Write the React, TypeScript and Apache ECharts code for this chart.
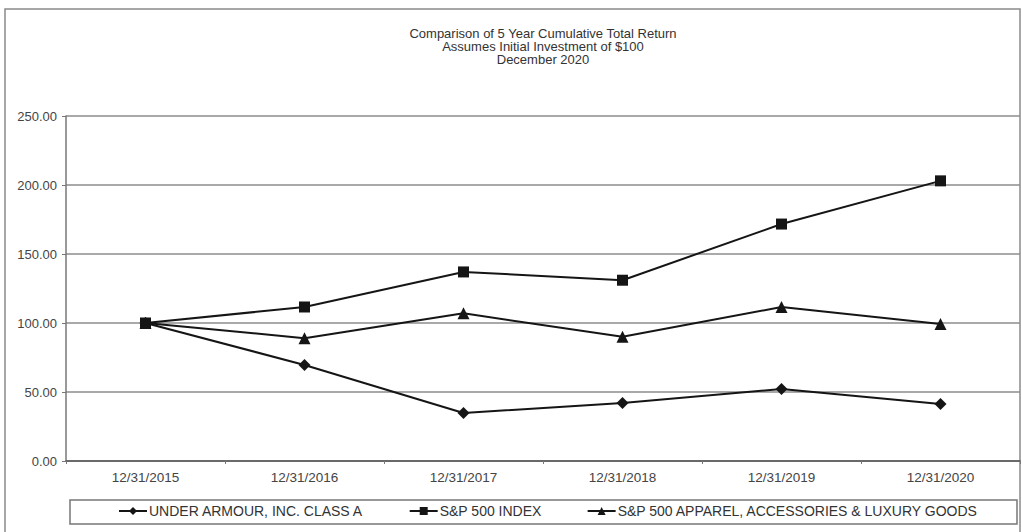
import React, { useEffect, useRef } from "react";
import * as echarts from "echarts";

const categories = ["12/31/2015", "12/31/2016", "12/31/2017", "12/31/2018", "12/31/2019", "12/31/2020"];
const underArmour = [100, 69.6, 34.8, 42.0, 52.2, 41.3];
const sp500 = [100, 111.6, 137.0, 131.0, 171.7, 203.0];
const apparel = [100, 89.0, 107.0, 90.0, 111.6, 99.3];
const yTicks = { min: 0, max: 250, interval: 50 };
const titleLines = [
  "Comparison of 5 Year Cumulative Total Return",
  "Assumes Initial Investment of $100",
  "December 2020",
];
const seriesNames = [
  "UNDER ARMOUR, INC. CLASS A",
  "S&P 500 INDEX",
  "S&P 500 APPAREL, ACCESSORIES & LUXURY GOODS",
];

export default function App() {
  const ref = useRef<HTMLDivElement>(null);
  useEffect(() => {
    if (!ref.current) return;
    const chart = echarts.init(ref.current, null, { renderer: "svg" });
    const font = "Liberation Sans, Arial, sans-serif";
    const lineColor = "#151515";
    const mk = (name: string, data: number[], symbol: string, size: number) => ({
      name,
      type: "line",
      data,
      symbol,
      symbolSize: size,
      showAllSymbol: true,
      lineStyle: { color: lineColor, width: 2 },
      itemStyle: { color: lineColor },
      z: 3,
    });
    chart.setOption({
      animation: false,
      backgroundColor: "#ffffff",
      textStyle: { fontFamily: font },
      title: {
        text: titleLines.join("\n"),
        left: 543,
        top: 26.5,
        padding: 0,
        textAlign: "center",
        textStyle: { fontSize: 13, fontWeight: "normal", color: "#333", lineHeight: 13, fontFamily: font },
      },
      graphic: [
        {
          type: "rect",
          shape: { x: 5, y: 9, width: 1015, height: 540 },
          style: { fill: "none", stroke: "#8a8a8a", lineWidth: 1.5 },
          silent: true,
        },
        {
          type: "rect",
          shape: { x: 70, y: 500, width: 947, height: 24 },
          style: { fill: "none", stroke: "#777", lineWidth: 1.5 },
          silent: true,
        },
      ],
      legend: {
        data: seriesNames,
        left: 118,
        top: 504,
        itemWidth: 28,
        itemHeight: 10,
        itemGap: 45,
        padding: 0,
        textStyle: { fontSize: 14, color: "#333", fontFamily: font, padding: [0, 0, 0, -3] },
      },
      grid: { left: 66, right: 2, top: 116, bottom: 71, containLabel: false },
      xAxis: {
        type: "category",
        data: categories,
        boundaryGap: true,
        axisLine: { show: true, lineStyle: { color: "#555", width: 1.5 } },
        axisTick: { show: true, length: 3, lineStyle: { color: "#777" } },
        axisLabel: { fontSize: 13.5, color: "#444", margin: 9, fontFamily: font },
        splitLine: { show: false },
      },
      yAxis: {
        type: "value",
        min: yTicks.min,
        max: yTicks.max,
        interval: yTicks.interval,
        axisLine: { show: true, lineStyle: { color: "#777", width: 1.5 } },
        axisTick: { show: true, length: 4, lineStyle: { color: "#777" } },
        axisLabel: {
          fontSize: 13,
          color: "#444",
          margin: 9,
          fontFamily: font,
          formatter: (v: number) => v.toFixed(2),
        },
        splitLine: { show: true, lineStyle: { color: "#8c8c8c", width: 1.5 } },
      },
      series: [
        mk(seriesNames[0], underArmour, "diamond", 12),
        mk(seriesNames[1], sp500, "rect", 11),
        mk(seriesNames[2], apparel, "triangle", 12),
      ],
    });
    return () => chart.dispose();
  }, []);
  return <div ref={ref} style={{ width: 1022, height: 532, position: "absolute", left: 0, top: 0 }} />;
}
